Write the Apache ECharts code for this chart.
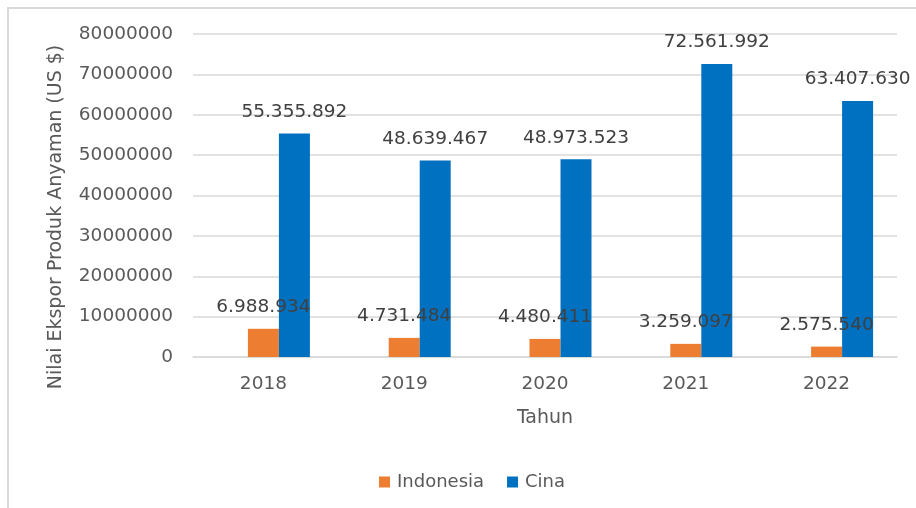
<!DOCTYPE html>
<html>
<head>
<meta charset="utf-8">
<script src="https://cdn.jsdelivr.net/npm/echarts@6/dist/echarts.min.js"></script>
<style>
html,body{margin:0;padding:0;background:#fff;}
#chart{width:916px;height:508px;}
</style>
</head>
<body>
<div id="chart"></div>
<script>
const categories = ['2018', '2019', '2020', '2021', '2022'];
const indonesia = [6988934, 4731484, 4480411, 3259097, 2575540];
const cina = [55355892, 48639467, 48973523, 72561992, 63407630];
const emptySeries = [null, null, null, null, null];
const yTicks = { min: 0, max: 80000000, interval: 10000000 };
const yAxisTitle = 'Nilai Ekspor Produk Anyaman (US $)';
const xAxisTitle = 'Tahun';

const FONT = 'DejaVu Sans';
function dotFmt(v) {
  return String(v).replace(/\B(?=(\d{3})+(?!\d))/g, '.');
}
const chart = echarts.init(document.getElementById('chart'), null, { renderer: 'canvas' });
const labelCfg = {
  show: true, position: 'top', distance: 12,
  color: '#404040', fontFamily: FONT, fontSize: 18.5,
  formatter: p => dotFmt(p.value)
};
chart.setOption({
  animation: false,
  backgroundColor: '#fff',
  textStyle: { fontFamily: FONT },
  grid: { left: 193, right: 19, top: 34, bottom: 151, containLabel: false },
  graphic: [
    { type: 'rect', shape: { x: 8, y: 8, width: 1000, height: 1000 },
      style: { fill: 'none', stroke: '#d9d9d9', lineWidth: 2 }, silent: true },
    { type: 'text', x: 56, y: 217, rotation: Math.PI / 2,
      style: { text: yAxisTitle, fontFamily: FONT, fontSize: 19, fill: '#595959',
               align: 'center', verticalAlign: 'middle' } }
  ],
  legend: {
    data: ['Indonesia', 'Cina'],
    bottom: 12, left: 374,
    icon: 'rect', itemWidth: 11, itemHeight: 11, itemGap: 23,
    textStyle: { color: '#595959', fontFamily: FONT, fontSize: 18, padding: [0, 0, 0, 2] }
  },
  xAxis: {
    type: 'category', data: categories,
    name: xAxisTitle, nameLocation: 'middle', nameGap: 52,
    nameTextStyle: { color: '#595959', fontFamily: FONT, fontSize: 19 },
    axisLine: { lineStyle: { color: '#d9d9d9', width: 1.5 } },
    axisTick: { show: false },
    axisLabel: { color: '#595959', fontFamily: FONT, fontSize: 18.5, margin: 18 }
  },
  yAxis: {
    type: 'value', min: yTicks.min, max: yTicks.max, interval: yTicks.interval,
    axisLine: { show: false }, axisTick: { show: false },
    splitLine: { lineStyle: { color: '#d9d9d9', width: 1.5 } },
    axisLabel: { color: '#595959', fontFamily: FONT, fontSize: 18.5, margin: 20,
                 formatter: v => String(v) }
  },
  series: [
    { name: '', type: 'bar', data: emptySeries, barWidth: 31, barGap: '0%' },
    { name: 'Indonesia', type: 'bar', data: indonesia, barWidth: 31, barGap: '0%',
      itemStyle: { color: '#ED7D31' }, label: labelCfg },
    { name: 'Cina', type: 'bar', data: cina, barWidth: 31, barGap: '0%',
      itemStyle: { color: '#0070C0' }, label: labelCfg }
  ]
});
</script>
</body>
</html>
